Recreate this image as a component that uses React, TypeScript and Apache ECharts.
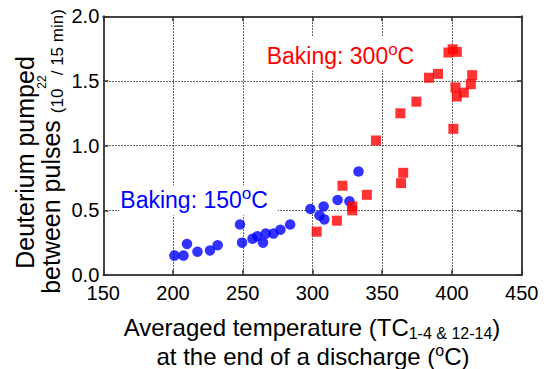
import React, { useEffect, useRef } from "react";
import * as echarts from "echarts";

// Baking at 150 °C (blue circles)
const temp150: number[] = [201, 207.5, 210, 217.5, 226.5, 232, 248, 249.5, 257, 260.5, 264.5, 266.5, 272, 277, 284, 298.5, 305, 308, 308.5, 318, 326.5, 333];
const dpump150: number[] = [0.15, 0.15, 0.24, 0.18, 0.19, 0.23, 0.39, 0.25, 0.28, 0.30, 0.25, 0.32, 0.32, 0.35, 0.39, 0.51, 0.46, 0.53, 0.43, 0.58, 0.57, 0.80];

// Baking at 300 °C (red squares)
const temp300: number[] = [303, 317.5, 321.5, 328.5, 328.5, 339, 345.5, 363, 363.5, 365, 374.5, 383.5, 390, 397.5, 400.5, 403.5, 402.5, 403.5, 408.5, 413.5, 414.5, 401];
const dpump300: number[] = [0.335, 0.42, 0.69, 0.53, 0.50, 0.62, 1.04, 1.25, 0.71, 0.79, 1.34, 1.525, 1.555, 1.72, 1.745, 1.725, 1.45, 1.38, 1.41, 1.475, 1.545, 1.13];

const xMin = 150;
const xMax = 450;
const xStep = 50;
const yMin = 0;
const yMax = 2.0;
const yStep = 0.5;

const FONT = "'Liberation Sans', Arial, Helvetica, sans-serif";

export default function App() {
  const ref = useRef<HTMLDivElement>(null);

  useEffect(() => {
    if (!ref.current) return;
    const chart = echarts.init(ref.current, undefined, { renderer: "svg" });

    const axisLineStyle = { color: "#444", width: 2 };
    const tickStyle = { color: "#333", width: 1.5 };
    const gridStyle = { color: "#333", width: 1, type: [1.5, 1.5] as number[] };

    const option: any = {
      animation: false,
      backgroundColor: "#fff",
      textStyle: { fontFamily: FONT },
      grid: {
        left: 103.3,
        right: 30.3,
        top: 16.3,
        bottom: 94,
        containLabel: false,
        outerBoundsMode: "none",
      },
      xAxis: [
        {
          type: "value",
          min: xMin,
          max: xMax,
          interval: xStep,
          position: "bottom",
          axisLine: { show: true, onZero: false, lineStyle: axisLineStyle },
          axisTick: { show: true, inside: true, length: 5, lineStyle: tickStyle },
          axisLabel: { show: true, fontSize: 20, color: "#000", margin: 8, fontFamily: FONT },
          splitLine: { show: true, lineStyle: gridStyle },
        },
        {
          type: "value",
          min: xMin,
          max: xMax,
          interval: xStep,
          position: "top",
          axisLine: { show: true, onZero: false, lineStyle: axisLineStyle },
          axisTick: { show: true, inside: true, length: 5, lineStyle: tickStyle },
          axisLabel: { show: false },
          splitLine: { show: false },
        },
      ],
      yAxis: [
        {
          type: "value",
          min: yMin,
          max: yMax,
          interval: yStep,
          position: "left",
          axisLine: { show: true, onZero: false, lineStyle: axisLineStyle },
          axisTick: { show: true, inside: true, length: 5, lineStyle: tickStyle },
          axisLabel: {
            show: true,
            fontSize: 20,
            color: "#000",
            margin: 4,
            fontFamily: FONT,
            formatter: (v: number) => v.toFixed(1),
          },
          splitLine: { show: true, lineStyle: gridStyle },
        },
        {
          type: "value",
          min: yMin,
          max: yMax,
          interval: yStep,
          position: "right",
          axisLine: { show: true, onZero: false, lineStyle: axisLineStyle },
          axisTick: { show: true, inside: true, length: 5, lineStyle: tickStyle },
          axisLabel: { show: false },
          splitLine: { show: false },
        },
      ],
      series: [
        {
          name: "Baking 150",
          type: "scatter",
          xAxisIndex: 0,
          yAxisIndex: 0,
          symbol: "circle",
          symbolSize: 10.5,
          itemStyle: { color: "#0000ff" },
          data: temp150.map((t, i) => [t, dpump150[i]]),
          z: 5,
        },
        {
          name: "Baking 300",
          type: "scatter",
          xAxisIndex: 0,
          yAxisIndex: 0,
          symbol: "rect",
          symbolSize: 10,
          itemStyle: { color: "#ff0000" },
          data: temp300.map((t, i) => [t, dpump300[i]]),
          z: 5,
        },
      ],
      graphic: [
        {
          type: "text",
          x: 265.7,
          y: 53.7,
          z: 50,
          style: {
            text: "{a|Baking: 300}{s|o}{a|C}",
            align: "left",
            verticalAlign: "middle",
            backgroundColor: "#fff",
            padding: [4, 3, 0, 1],
            rich: {
              a: { fontSize: 23, fontFamily: FONT, fill: "#ff0000", color: "#ff0000", lineHeight: 30 },
              s: { fontSize: 17, fontFamily: FONT, fill: "#ff0000", color: "#ff0000", lineHeight: 9, verticalAlign: "top" },
            },
          },
        },
        {
          type: "text",
          x: 119.3,
          y: 200.3,
          z: 50,
          style: {
            text: "{a|Baking: 150}{s|o}{a|C}",
            align: "left",
            verticalAlign: "middle",
            backgroundColor: "#fff",
            padding: [0, 10, 0, 1],
            rich: {
              a: { fontSize: 23, fontFamily: FONT, fill: "#0000ff", color: "#0000ff", lineHeight: 30 },
              s: { fontSize: 17, fontFamily: FONT, fill: "#0000ff", color: "#0000ff", lineHeight: 9, verticalAlign: "top" },
            },
          },
        },
        // Y title, line 1
        {
          type: "text",
          x: 24.5,
          y: 162.5,
          rotation: Math.PI / 2,
          style: {
            text: "Deuterium pumped",
            align: "center",
            verticalAlign: "middle",
            fontSize: 25,
            fontFamily: FONT,
            fill: "#000",
          },
        },
        // Y title, line 2
        {
          type: "text",
          x: 50.5,
          y: 151.5,
          rotation: Math.PI / 2,
          style: {
            text: "{a|between pulses }{b|(10}{s|22}{b|/ 15 min)}",
            align: "center",
            verticalAlign: "middle",
            rich: {
              a: { fontSize: 25, fontFamily: FONT, fill: "#000", color: "#000", lineHeight: 30 },
              b: { fontSize: 17, fontFamily: FONT, fill: "#000", color: "#000", lineHeight: 24, verticalAlign: "bottom" },
              s: { fontSize: 12, fontFamily: FONT, fill: "#000", color: "#000", lineHeight: 22, verticalAlign: "top" },
            },
          },
        },
        // X title, line 1
        {
          type: "text",
          x: 312,
          y: 327.9,
          style: {
            text: "{a|Averaged temperature (TC}{u|1-4 & 12-14}{a|)}",
            align: "center",
            verticalAlign: "middle",
            rich: {
              a: { fontSize: 24, fontFamily: FONT, fill: "#000", color: "#000", lineHeight: 28 },
              u: { fontSize: 16, fontFamily: FONT, fill: "#000", color: "#000", lineHeight: 14, verticalAlign: "bottom" },
            },
          },
        },
        // X title, line 2
        {
          type: "text",
          x: 313,
          y: 356.5,
          style: {
            text: "{a|at the end of a discharge (}{s|o}{a|C)}",
            align: "center",
            verticalAlign: "middle",
            rich: {
              a: { fontSize: 24, fontFamily: FONT, fill: "#000", color: "#000", lineHeight: 28 },
              s: { fontSize: 16, fontFamily: FONT, fill: "#000", color: "#000", lineHeight: 10, verticalAlign: "top" },
            },
          },
        },
      ],
    };

    chart.setOption(option);
    return () => {
      chart.dispose();
    };
  }, []);

  return (
    <div
      ref={ref}
      style={{ position: "fixed", left: 0, top: 0, width: 552, height: 369, background: "#fff" }}
    />
  );
}
